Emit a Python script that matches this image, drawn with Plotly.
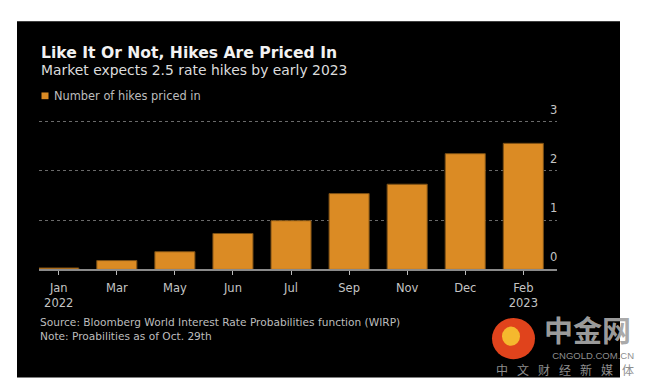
import plotly.graph_objects as go

months = ["Jan<br>2022", "Mar", "May", "Jun", "Jul", "Sep", "Nov", "Dec", "Feb<br>2023"]
hikes = [0.03, 0.18, 0.36, 0.73, 0.99, 1.54, 1.73, 2.35, 2.56]
y_ticks = [0, 1, 2, 3]
series_name = "Number of hikes priced in"

# The page body has an 8px margin, so the figure is sized to fit the window exactly
OFF = 8
W, H = 649 - OFF, 386 - OFF
FONT = "DejaVu Sans"
BAR = "#DB8B24"

def px(x):
    return (x - OFF) / W

def py(y):
    return 1 - (y - OFF) / H

fig = go.Figure()
fig.add_trace(go.Bar(
    x=list(range(len(months))), y=hikes, name=series_name,
    marker=dict(color=BAR, line=dict(color="#7a4f15", width=1)),
    width=0.69, showlegend=False,
))

fig.update_layout(
    width=W, height=H, margin=dict(l=0, r=0, t=0, b=0),
    paper_bgcolor="white", plot_bgcolor="rgba(0,0,0,0)",
    font=dict(family=FONT, color="#bdbdbd", size=11),
    xaxis=dict(domain=[px(39), px(557)], range=[-0.34, 8.58],
               tickmode="array", tickvals=list(range(len(months))), ticktext=months,
               showline=True, linecolor="#8a8a8a", linewidth=2,
               ticks="outside", ticklen=4, tickcolor="#bbbbbb", tickwidth=1,
               ticklabelstandoff=3,
               showgrid=False, zeroline=False, fixedrange=True,
               tickfont=dict(size=11.5, color="#c4c4c4")),
    yaxis=dict(domain=[py(264.3), py(107.4)], range=[0, 3.05], side="right",
               anchor="free", position=px(549),
               tickvals=y_ticks, ticklabelposition="outside", ticklabelshift=-12,
               showgrid=True, gridcolor="#6a6a6a", griddash="dot", gridwidth=1,
               zeroline=False, showline=False, ticks="",
               tickfont=dict(size=11.5, color="#c4c4c4")),
    showlegend=False,
)

# black panel
fig.add_shape(type="rect", xref="paper", yref="paper", x0=px(17), x1=px(620), y0=py(377), y1=py(5),
              fillcolor="black", line=dict(width=0), layer="below")

fig.add_annotation(text="<b>Like It Or Not, Hikes Are Priced In</b>", xref="paper", yref="paper",
                   x=px(39), y=py(38), xanchor="left", yanchor="middle", showarrow=False,
                   font=dict(size=15.6, color="#f2f2f2", family=FONT))
fig.add_annotation(text="Market expects 2.5 rate hikes by early 2023", xref="paper", yref="paper",
                   x=px(39), y=py(56), xanchor="left", yanchor="middle", showarrow=False,
                   font=dict(size=13.9, color="#dcdcdc", family=FONT))

# legend
fig.add_shape(type="rect", xref="paper", yref="paper", x0=px(41.5), x1=px(48.5), y0=py(86.5), y1=py(79.5),
              fillcolor=BAR, line=dict(width=0))
fig.add_annotation(text=series_name, xref="paper", yref="paper",
                   x=px(52), y=py(83), xanchor="left", yanchor="middle", showarrow=False,
                   font=dict(size=11.4, color="#bdbdbd", family=FONT))

fig.add_annotation(text="Source: Bloomberg World Interest Rate Probabilities function (WIRP)<br>Note: Proabilities as of Oct. 29th",
                   xref="paper", yref="paper", x=px(38), y=py(326), xanchor="left", yanchor="middle",
                   align="left", showarrow=False, font=dict(size=10.6, color="#bdbdbd", family=FONT))

# watermark
fig.add_shape(type="circle", xref="paper", yref="paper", x0=px(492), x1=px(535), y0=py(358), y1=py(315),
              fillcolor="#e0431c", line=dict(width=0))
fig.add_shape(type="circle", xref="paper", yref="paper", x0=px(502), x1=px(520), y0=py(344), y1=py(324),
              fillcolor="#f5b82e", line=dict(width=0))
fig.add_annotation(text="<b>中金网</b>", xref="paper", yref="paper", x=px(587.5), y=py(327),
                   xanchor="center", yanchor="middle", showarrow=False, borderpad=0,
                   font=dict(size=29, color="rgba(165,165,165,0.95)", family="Noto Sans CJK SC"))
sp = "\u2002\u2005"
fig.add_annotation(text="<span style='font-size:9.5px;font-family:Liberation Sans'>CNGOLD.COM.CN</span><br>" + sp.join("中文财经新媒体"),
                   xref="paper", yref="paper", x=px(635), y=py(363),
                   xanchor="right", yanchor="middle", align="right", showarrow=False, borderpad=0,
                   font=dict(size=12, color="#8e8e8e", family="Noto Sans CJK SC"))

fig.write_html("out.html")
